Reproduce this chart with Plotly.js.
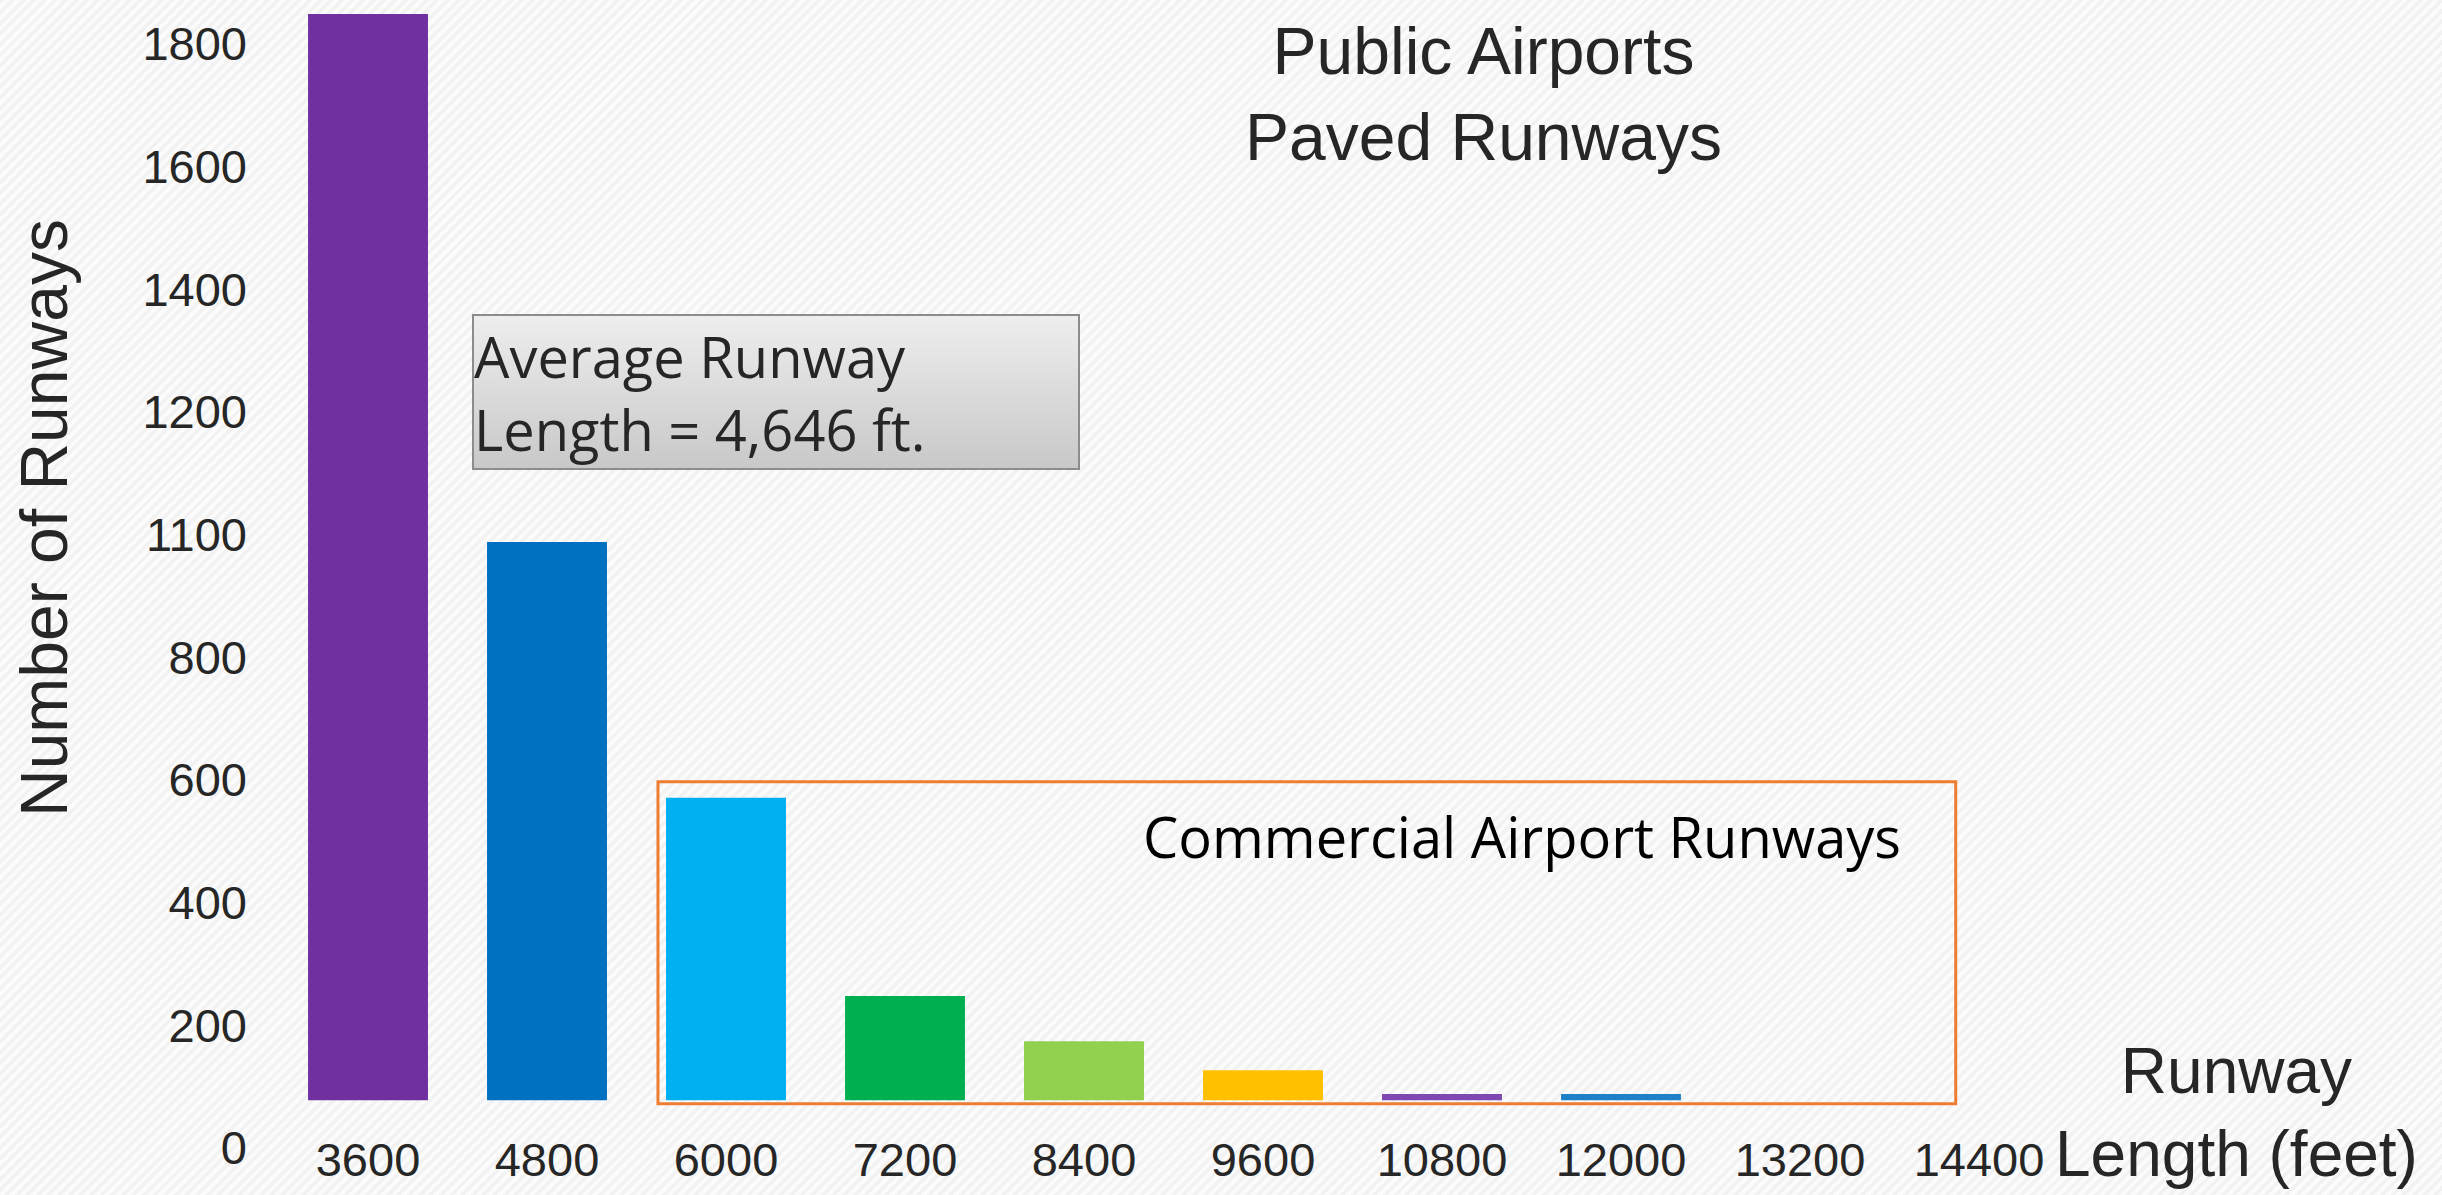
<!DOCTYPE html>
<html>
<head>
<meta charset="utf-8">
<script src="https://cdn.plot.ly/plotly-3.0.1.min.js"></script>
<style>
  html, body { margin: 0; padding: 0; }
  body {
    width: 2442px; height: 1195px; overflow: hidden;
    background: repeating-linear-gradient(135deg, #f2f2f2 0px, #f2f2f2 3.5px, #fbfbfb 3.5px, #fbfbfb 7.5px);
  }
  #chart { width: 2442px; height: 1195px; }
</style>
</head>
<body>
<div id="chart"></div>
<script>
// ---- data ----
const runwayLengths = ['3600', '4800', '6000', '7200', '8400', '9600', '10800', '12000', '13200', '14400'];
// bar tops as read on the (printed) vertical scale
const runwayCounts = [1849, 988, 571, 248, 174, 127, 88, 88, 78, null];
// the bars of the slide rise from this level of the scale
const barBaseline = 78;
const yTickValues = [0, 200, 400, 600, 800, 1000, 1200, 1400, 1600, 1800];
const yTickLabels = ['0', '200', '400', '600', '800', '1100', '1200', '1400', '1600', '1800'];
const barColors = ['#7030A0', '#0070C0', '#00B0F0', '#00B050', '#92D050', '#FFC000', '#7F47B0', '#1F80CA', '#1F80CA', '#1F80CA'];

const chartTitle = 'Public Airports<br>Paved Runways';
const xTitle = 'Runway<br>Length (feet)';
const yTitle = 'Number of Runways';
const averageNote = 'Average Runway<br>Length = 4,646 ft.';
const commercialNote = 'Commercial Airport Runways';

// ---- figure ----
const W = 2442, H = 1195, L = 260;
const pw = W - L;
const px = p => (p - L) / pw;       // page px -> paper x
const py = p => 1 - p / H;          // page px -> paper y
const STEP = 179, FIRST = 368;      // px per category, px of first category

const heights = runwayCounts.map(v => v === null ? null : v - barBaseline);

const trace = {
  type: 'bar',
  x: runwayLengths,
  y: heights,
  base: barBaseline,
  width: 0.67,
  marker: { color: barColors, line: { width: 0 } },
  hoverinfo: 'x+y',
  showlegend: false
};

const gradSvg = "<svg xmlns='http://www.w3.org/2000/svg' width='100' height='100' preserveAspectRatio='none'>" +
  "<defs><linearGradient id='g' x1='0' y1='0' x2='0' y2='1'>" +
  "<stop offset='0' stop-color='#EEEEEE'/><stop offset='1' stop-color='#C8C8C8'/>" +
  "</linearGradient></defs><rect width='100' height='100' fill='url(#g)'/></svg>";
const gradSrc = 'data:image/svg+xml;charset=utf-8,' + encodeURIComponent(gradSvg);

const tickFont = { family: 'Liberation Sans, Arial, sans-serif', size: 47, color: '#262626' };
const bigFont = { family: 'Liberation Sans, Arial, sans-serif', size: 66, color: '#262626' };
const noteFont = { family: 'Open Sans, sans-serif', size: 56, color: '#262626' };

const r0 = -(FIRST - L) / STEP;

const layout = {
  width: W, height: H,
  margin: { l: L, r: 0, t: 0, b: 0, pad: 0 },
  paper_bgcolor: 'rgba(0,0,0,0)',
  plot_bgcolor: 'rgba(0,0,0,0)',
  xaxis: {
    type: 'category',
    categoryorder: 'array',
    categoryarray: runwayLengths,
    range: [r0, r0 + pw / STEP],
    anchor: 'free',
    position: py(1128),
    showgrid: false, zeroline: false, showline: false,
    ticks: '',
    tickfont: tickFont,
    fixedrange: true
  },
  yaxis: {
    range: [-76.6, 1871.8],
    tickmode: 'array',
    tickvals: yTickValues,
    ticktext: yTickLabels,
    showgrid: false, zeroline: false, showline: false,
    ticks: '',
    ticklabelstandoff: 12,
    tickfont: tickFont,
    fixedrange: true
  },
  images: [{
    source: gradSrc,
    xref: 'paper', yref: 'paper',
    x: px(473), y: py(315),
    sizex: px(1079) - px(473), sizey: py(315) - py(469),
    xanchor: 'left', yanchor: 'top',
    sizing: 'stretch', layer: 'below'
  }],
  shapes: [
    {
      type: 'rect', xref: 'paper', yref: 'paper',
      x0: px(473), x1: px(1079), y0: py(469), y1: py(315),
      line: { color: '#8C8C8C', width: 2 }, fillcolor: 'rgba(0,0,0,0)'
    },
    {
      type: 'rect', xref: 'x', yref: 'y',
      x0: 1.62, x1: 8.87, y0: 72, y1: 597,
      line: { color: '#ED7D31', width: 3 }, fillcolor: 'rgba(0,0,0,0)', layer: 'above'
    }
  ],
  annotations: [
    {
      text: chartTitle, align: 'center',
      xref: 'paper', yref: 'paper',
      x: px(1484), y: py(94), xanchor: 'center', yanchor: 'middle',
      showarrow: false, font: bigFont
    },
    {
      text: yTitle, textangle: -90,
      xref: 'paper', yref: 'paper',
      x: px(44), y: py(518), xanchor: 'center', yanchor: 'middle',
      showarrow: false, font: bigFont
    },
    {
      text: xTitle, align: 'center',
      xref: 'paper', yref: 'paper',
      x: px(2236), y: py(1112), xanchor: 'center', yanchor: 'middle',
      showarrow: false, font: { family: 'Liberation Sans, Arial, sans-serif', size: 64, color: '#262626' }
    },
    {
      text: averageNote, align: 'left',
      xref: 'paper', yref: 'paper',
      x: px(472), y: py(392), xanchor: 'left', yanchor: 'middle',
      showarrow: false, font: noteFont
    },
    {
      text: commercialNote, align: 'right',
      xref: 'paper', yref: 'paper',
      x: px(1903), y: py(836), xanchor: 'right', yanchor: 'middle',
      showarrow: false, font: { family: 'Open Sans, sans-serif', size: 56, color: '#000000' }
    }
  ]
};

Plotly.newPlot('chart', [trace], layout, { displayModeBar: false, staticPlot: true });
</script>
</body>
</html>
